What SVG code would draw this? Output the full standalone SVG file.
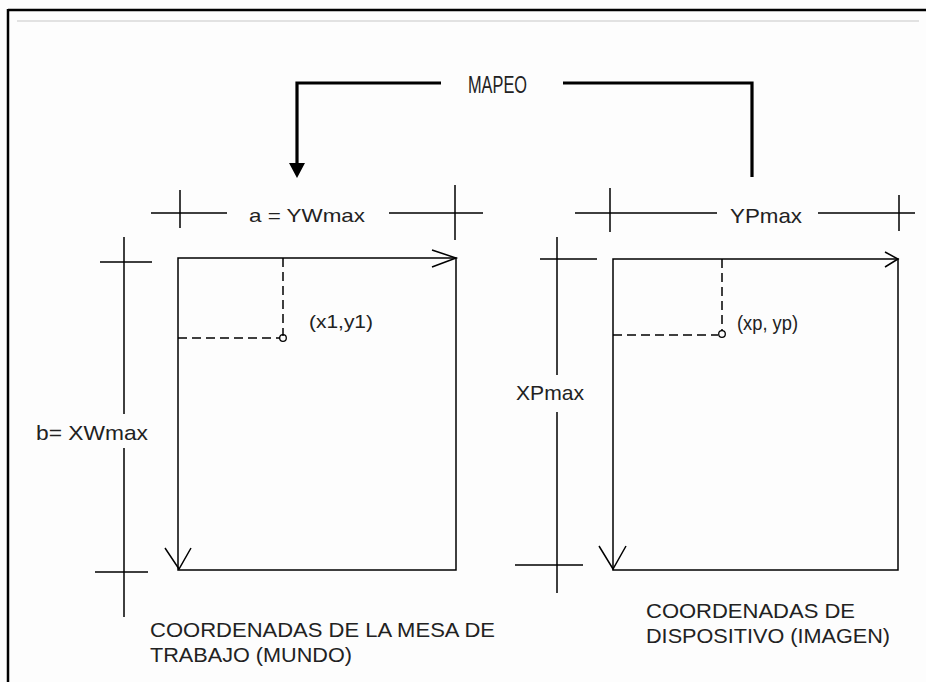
<svg xmlns="http://www.w3.org/2000/svg" width="926" height="682" viewBox="0 0 926 682">
<style>
.ln{stroke:#000;stroke-width:1.5;fill:none}
.dash{stroke:#000;stroke-width:1.5;fill:none;stroke-dasharray:9,5}
.bold{stroke:#000;stroke-width:3.2;fill:none}
text{font-family:"Liberation Sans",Arial,sans-serif;fill:#222}
</style>
<rect x="0" y="0" width="926" height="682" fill="#fdfdfd"/>
<g id="frame">
<line x1="8" y1="10" x2="926" y2="10" stroke="#000" stroke-width="2.5"/>
<line x1="8" y1="9" x2="8" y2="682" stroke="#000" stroke-width="2.5"/>
<line x1="17" y1="21" x2="919" y2="21" stroke="#c8c8c8" stroke-width="1.2"/>
</g>
<g id="connectors">
<path class="bold" d="M441,83 H297 V164"/>
<polygon points="289,163 305,163 297,178" fill="#000"/>
<path class="bold" d="M563,83 H752 V177"/>
</g>
<g id="mapeo">
<text x="468" y="93" font-size="24" textLength="59" lengthAdjust="spacingAndGlyphs">MAPEO</text>
</g>
<g id="world">
<path class="ln" d="M178,258 H456 V570 H178 Z"/>
<path class="ln" d="M432,250 L456,258 L432,267"/>
<path class="ln" d="M165,548 L179,569 L191,548"/>
<path class="dash" d="M283,258 V336"/>
<path class="dash" d="M178,338 H280"/>
<circle cx="283" cy="338" r="3.3" fill="none" stroke="#000" stroke-width="1.3"/>
<text x="309" y="328" font-size="19" textLength="64" lengthAdjust="spacingAndGlyphs">(x1,y1)</text>
<path class="ln" d="M151,213 H227 M389,213 H483 M180,190 V228 M455,185 V240"/>
<text x="249" y="222" font-size="19" textLength="116" lengthAdjust="spacingAndGlyphs">a = YWmax</text>
<path class="ln" d="M124,237 V414 M124,448 V617 M100,262 H152 M95,572 H148"/>
<text x="36" y="440" font-size="21" textLength="112" lengthAdjust="spacingAndGlyphs">b= XWmax</text>
<text x="150" y="637" font-size="21" textLength="345" lengthAdjust="spacingAndGlyphs">COORDENADAS DE LA MESA DE</text>
<text x="150" y="662" font-size="21" textLength="202" lengthAdjust="spacingAndGlyphs">TRABAJO (MUNDO)</text>
</g>
<g id="device">
<path class="ln" d="M613,259 H898 V570 H613 Z"/>
<path class="ln" d="M885,252 L898,259 L885,267"/>
<path class="ln" d="M599,546 L613,569 L626,546"/>
<path class="dash" d="M722,259 V331"/>
<path class="dash" d="M613,335 H718"/>
<circle cx="722" cy="334" r="3.3" fill="none" stroke="#000" stroke-width="1.3"/>
<text x="737" y="330" font-size="20" textLength="61" lengthAdjust="spacingAndGlyphs">(xp, yp)</text>
<path class="ln" d="M575,213 H717 M818,213 H915 M610,188 V232 M899,195 V231"/>
<text x="730" y="223" font-size="21" textLength="72" lengthAdjust="spacingAndGlyphs">YPmax</text>
<path class="ln" d="M557,237 V375 M557,412 V593 M540,259 H597 M515,565 H583"/>
<text x="516" y="400" font-size="21" textLength="68" lengthAdjust="spacingAndGlyphs">XPmax</text>
<text x="646" y="618" font-size="21" textLength="209" lengthAdjust="spacingAndGlyphs">COORDENADAS DE</text>
<text x="646" y="643" font-size="21" textLength="244" lengthAdjust="spacingAndGlyphs">DISPOSITIVO  (IMAGEN)</text>
</g>
</svg>
